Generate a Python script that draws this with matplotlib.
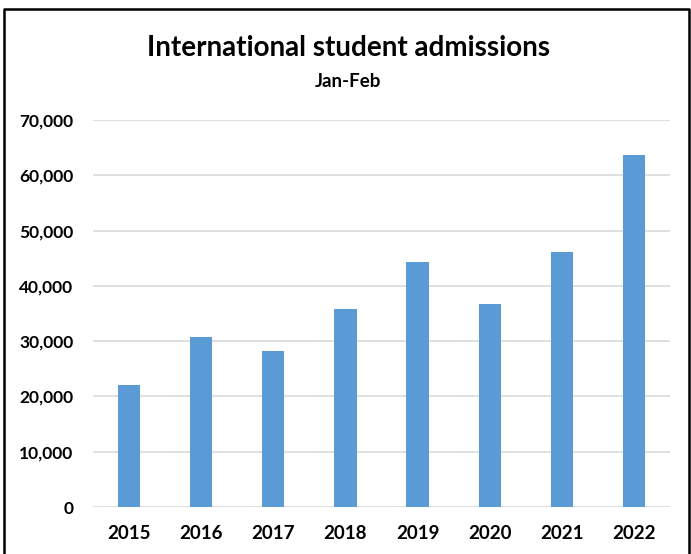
import matplotlib.pyplot as plt
from matplotlib.lines import Line2D
from matplotlib.ticker import FuncFormatter

years = ["2015", "2016", "2017", "2018", "2019", "2020", "2021", "2022"]
admissions = [22100, 30800, 28200, 35900, 44300, 36700, 46200, 63600]
y_ticks = [0, 10000, 20000, 30000, 40000, 50000, 60000, 70000]

plt.rcParams['font.family'] = ['Lato', 'DejaVu Sans']

fig = plt.figure(figsize=(6.91, 5.54), dpi=100)
ax = fig.add_axes([0.1346, 0.0848, 0.835, 0.6986])

x = range(len(years))
ax.bar(x, admissions, width=0.31, color="#5B9BD5", zorder=3)

ax.set_xlim(-0.5, len(years) - 0.5)
ax.set_ylim(0, 70000)
ax.set_yticks(y_ticks)
ax.yaxis.set_major_formatter(FuncFormatter(lambda v, _: f"{int(v):,}"))
ax.set_xticks(list(x))
ax.set_xticklabels(years)

ax.grid(axis="y", color="#D9D9D9", linewidth=1.2, zorder=0)
for side in ["top", "right", "left", "bottom"]:
    ax.spines[side].set_visible(False)
ax.tick_params(axis="both", length=0)
ax.tick_params(axis="y", pad=14, labelsize=12.5)
ax.tick_params(axis="x", pad=13, labelsize=13.5)
for lbl in ax.get_xticklabels() + ax.get_yticklabels():
    lbl.set_fontweight("bold")

fig.text(0.505, 0.913, "International student admissions", ha="center",
         va="center", fontsize=20, fontweight="bold")
fig.text(0.504, 0.852, "Jan-Feb", ha="center", va="center",
         fontsize=13.5, fontweight="bold")

# open frame: left, top and right edges only
fig.add_artist(Line2D([0.006, 0.006, 0.997, 0.997], [0.0, 0.984, 0.984, 0.0],
                      transform=fig.transFigure, color="black", linewidth=1.8))

fig.savefig("out.png", dpi=100)
